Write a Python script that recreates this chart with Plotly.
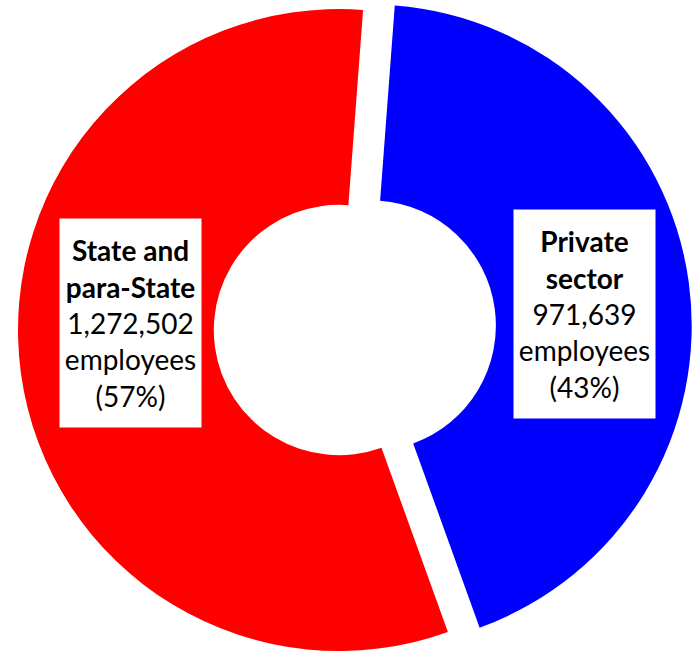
import math
import plotly.graph_objects as go

# Employment by sector
sectors = ["Private sector", "State and para-State"]
sector_lines = ["Private<br>sector", "State and<br>para-State"]
employees = [971639, 1272502]
colors = ["#0000FF", "#FF0000"]

W, H = 695, 651
total = sum(employees)
shares = [round(100 * v / total) for v in employees]

R = 321            # outer radius in px
CX, CY = 339, 330  # centre of the State slice ring
ROT = 4.3          # first slice (Private) starts just right of 12 o'clock
EXPLODE = 32       # offset of the exploded Private slice, px


def domain(cx, cy):
    return dict(x=[(cx - R) / W, (cx + R) / W],
                y=[(H - (cy + R)) / H, (H - (cy - R)) / H])


# the Private slice is pushed out along its bisector
mid = math.radians(ROT + 180 * employees[0] / total)
bx, by = CX + EXPLODE * math.sin(mid), CY - EXPLODE * math.cos(mid)

fig = go.Figure()
for i, (cx, cy) in enumerate([(CX, CY), (bx, by)]):
    shown = 1 if i == 0 else 0
    fig.add_trace(go.Pie(
        labels=sectors,
        values=employees,
        sort=False,
        direction="clockwise",
        rotation=ROT,
        hole=0.39,
        marker=dict(colors=[c if k == shown else "rgba(0,0,0,0)" for k, c in enumerate(colors)],
                    line=dict(width=0)),
        textinfo="none",
        hoverinfo="label+value+percent",
        domain=domain(cx, cy),
        showlegend=False,
    ))

# label boxes: (centre x, centre y) in px
boxes = [(584.5, 313.5), (130.5, 323)]
for i, (x, y) in enumerate(boxes):
    fig.add_annotation(
        xref="paper", yref="paper",
        x=x / W, y=1 - y / H,
        xanchor="center", yanchor="middle",
        text=f"<b>{sector_lines[i]}</b><br>{employees[i]:,}<br>employees<br>({shares[i]}%)",
        showarrow=False,
        align="center",
        width=141, height=208,
        bgcolor="white",
        borderpad=0,
        font=dict(family="Lato", size=28, color="black"),
    )

fig.update_layout(
    width=W, height=H,
    margin=dict(l=0, r=0, t=0, b=0),
    paper_bgcolor="white",
    plot_bgcolor="white",
)

fig.write_html("out.html")
